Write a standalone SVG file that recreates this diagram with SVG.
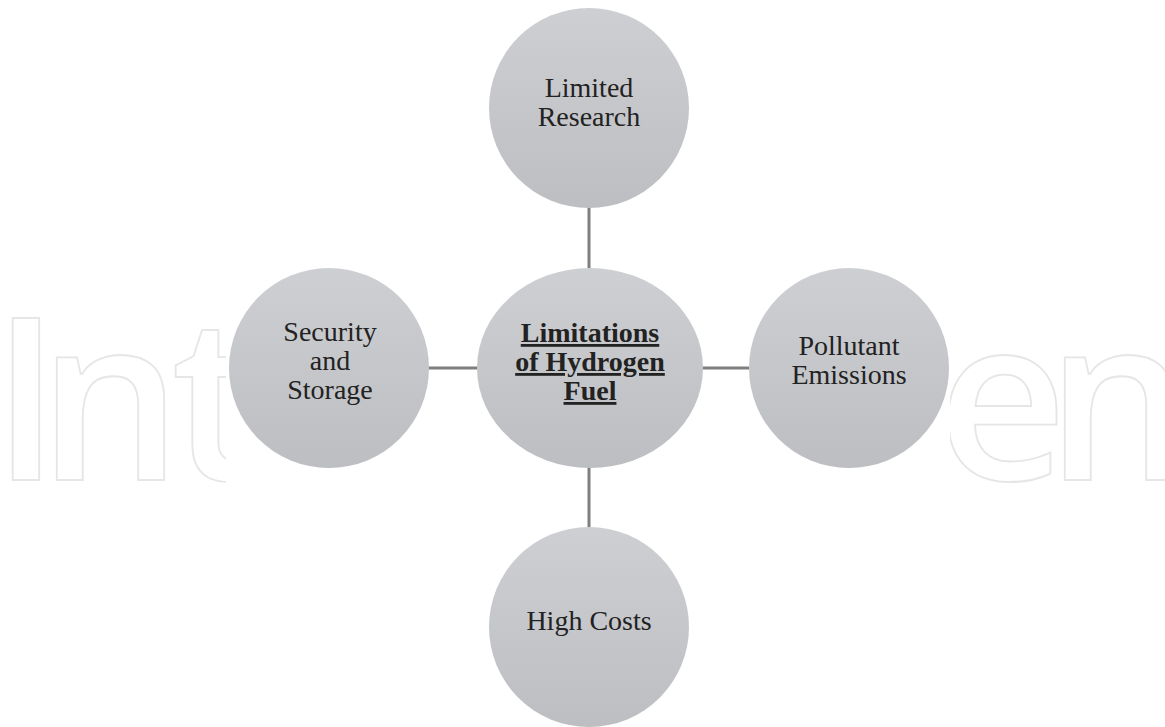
<svg xmlns="http://www.w3.org/2000/svg" width="1165" height="727" viewBox="0 0 1165 727">
<style>
.wm{font-family:"Open Sans",sans-serif;font-weight:600;font-size:226px;fill:none;stroke:#e6e6e6;stroke-width:1.8;text-anchor:middle}
.node{fill:url(#g)}
.lbl{font-family:"Liberation Serif","Times New Roman",serif;font-size:28px;fill:#222;text-anchor:middle}
.ctr{font-weight:bold;text-decoration:underline}
.conn{stroke:#7f7f7f;stroke-width:3;fill:none}
</style>
<defs>
<linearGradient id="g" x1="0" y1="0" x2="0" y2="1">
<stop offset="0" stop-color="#cecfd2"/>
<stop offset="1" stop-color="#bdbec2"/>
</linearGradient>
<clipPath id="wmclip"><rect x="0" y="0" width="226" height="727"/><rect x="950" y="0" width="215" height="727"/></clipPath>
</defs>
<rect width="1165" height="727" fill="#fff"/>
<g id="watermark" clip-path="url(#wmclip)">
<text class="wm" x="26 110 216" y="480">Int</text>
<text class="wm" x="1002 1118" y="480">en</text>
</g>
<g id="connectors">
<line class="conn" x1="589" y1="208" x2="589" y2="268"/>
<line class="conn" x1="589" y1="467" x2="589" y2="527"/>
<line class="conn" x1="428" y1="368" x2="478" y2="368"/>
<line class="conn" x1="702" y1="368" x2="749" y2="368"/>
</g>
<g id="center">
<ellipse class="node" cx="590" cy="368" rx="113" ry="100"/>
<text class="lbl ctr" x="590" y="342">Limitations</text>
<text class="lbl ctr" x="590" y="371">of Hydrogen</text>
<text class="lbl ctr" x="590" y="400">Fuel</text>
</g>
<g id="limited-research">
<circle class="node" cx="589" cy="108" r="100"/>
<text class="lbl" x="589" y="97">Limited</text>
<text class="lbl" x="589" y="126">Research</text>
</g>
<g id="security-storage">
<circle class="node" cx="329" cy="368" r="100"/>
<text class="lbl" x="330" y="341">Security</text>
<text class="lbl" x="330" y="370">and</text>
<text class="lbl" x="330" y="399">Storage</text>
</g>
<g id="pollutant-emissions">
<circle class="node" cx="849" cy="368" r="100"/>
<text class="lbl" x="849" y="355">Pollutant</text>
<text class="lbl" x="849" y="384">Emissions</text>
</g>
<g id="high-costs">
<circle class="node" cx="589" cy="627" r="100"/>
<text class="lbl" x="589" y="630">High Costs</text>
</g>
</svg>
